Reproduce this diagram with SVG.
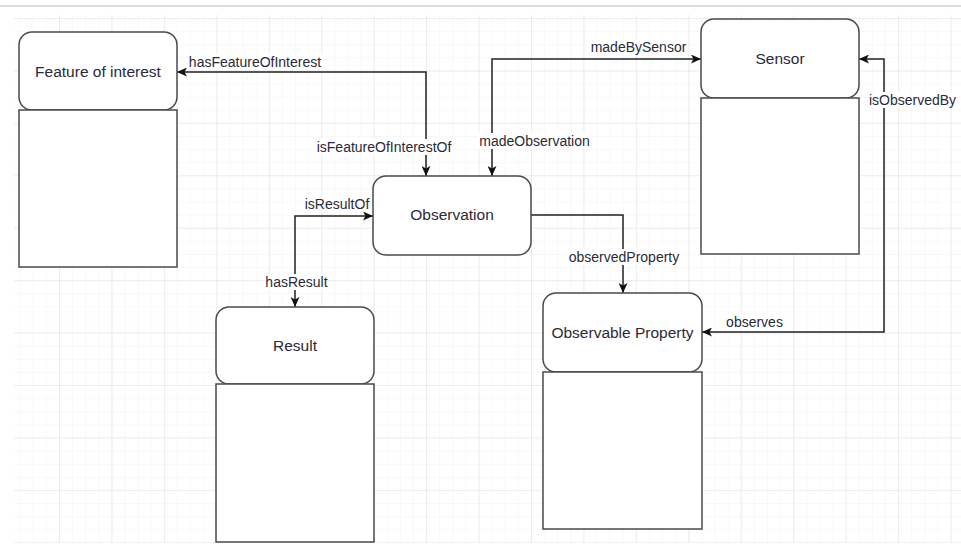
<svg xmlns="http://www.w3.org/2000/svg" width="961" height="544" viewBox="0 0 961 544">
<style>
  .box{fill:#fff;stroke:#4a4a4a;stroke-width:1.5}
  .ntext{font-family:"Liberation Sans",Arial,sans-serif;font-size:15.5px;fill:#2a2a3a;text-anchor:middle}
  .edge{fill:none;stroke:#222;stroke-width:1.5}
  .lbl{font-family:"Liberation Sans",Arial,sans-serif;font-size:14px;fill:#2a2a3a;text-anchor:middle}
  .lblbg{fill:#fff}
</style>
<defs>
  <pattern id="minor" x="6.6" y="18" width="13.11" height="13.11" patternUnits="userSpaceOnUse">
    <path d="M0 0 V13.11 M0 0 H13.11" fill="none" stroke="#f1f1f1" stroke-width="1"/>
  </pattern>
  <pattern id="major" x="6.6" y="18" width="52.44" height="52.43" patternUnits="userSpaceOnUse">
    <path d="M0 0 V52.43 M0 0 H52.44" fill="none" stroke="#e2e2e2" stroke-width="1"/>
  </pattern>
  <marker id="arr" markerUnits="userSpaceOnUse" markerWidth="11" markerHeight="9" refX="10" refY="4.5" orient="auto-start-reverse" viewBox="0 0 11 9">
    <path d="M0 0 L10 4.5 L0 9 L2.5 4.5 Z" fill="#111"/>
  </marker>
</defs>
<rect width="961" height="544" fill="#fff"/>
<rect x="14" y="15" width="947" height="528" fill="url(#minor)"/>
<rect x="14" y="15" width="947" height="528" fill="url(#major)"/>
<line x1="0" y1="6" x2="961" y2="6" stroke="#cfcfcf" stroke-width="1.5"/>

<g id="connectors">
  <path class="edge" d="M177 72 H426 V176" marker-start="url(#arr)" marker-end="url(#arr)"/>
  <path class="edge" d="M492 176 V59 H701" marker-start="url(#arr)" marker-end="url(#arr)"/>
  <path class="edge" d="M295 307 V216 H373" marker-start="url(#arr)" marker-end="url(#arr)"/>
  <path class="edge" d="M531 215 H623 V293" marker-end="url(#arr)"/>
  <path class="edge" d="M859 59 H884 V332 H702" marker-start="url(#arr)" marker-end="url(#arr)"/>
  <g id="labels">
    <rect class="lblbg" x="188" y="54" width="135" height="16"/>
    <text class="lbl" x="255" y="67">hasFeatureOfInterest</text>
    <rect class="lblbg" x="315" y="139" width="138" height="16"/>
    <text class="lbl" x="384" y="152">isFeatureOfInterestOf</text>
    <rect class="lblbg" x="589" y="39" width="99" height="16"/>
    <text class="lbl" x="638.5" y="52">madeBySensor</text>
    <rect class="lblbg" x="478" y="133" width="113" height="16"/>
    <text class="lbl" x="534.5" y="146">madeObservation</text>
    <rect class="lblbg" x="303" y="196" width="68" height="16"/>
    <text class="lbl" x="337" y="209">isResultOf</text>
    <rect class="lblbg" x="265" y="274" width="63" height="16"/>
    <text class="lbl" x="296.5" y="287">hasResult</text>
    <rect class="lblbg" x="567" y="249" width="114" height="16"/>
    <text class="lbl" x="624" y="262">observedProperty</text>
    <rect class="lblbg" x="726" y="314" width="57" height="16"/>
    <text class="lbl" x="754.5" y="327">observes</text>
    <rect class="lblbg" x="868" y="92" width="89" height="16"/>
    <text class="lbl" x="912.5" y="105">isObservedBy</text>
  </g>
</g>

<g id="feature-of-interest">
  <rect class="box" x="19" y="32" width="158" height="78" rx="13" ry="13"/>
  <rect class="box" x="19" y="110" width="158" height="157"/>
  <text class="ntext" x="98" y="76.5">Feature of interest</text>
</g>
<g id="sensor">
  <rect class="box" x="701" y="19" width="158" height="79" rx="13" ry="13"/>
  <rect class="box" x="701" y="98" width="158" height="156"/>
  <text class="ntext" x="780" y="64">Sensor</text>
</g>
<g id="observation">
  <rect class="box" x="373" y="176" width="158" height="79" rx="13" ry="13"/>
  <text class="ntext" x="452" y="220">Observation</text>
</g>
<g id="result">
  <rect class="box" x="216" y="307" width="158" height="77" rx="13" ry="13"/>
  <rect class="box" x="216" y="384" width="158" height="158"/>
  <text class="ntext" x="295" y="351">Result</text>
</g>
<g id="observable-property">
  <rect class="box" x="543" y="293" width="159" height="79" rx="13" ry="13"/>
  <rect class="box" x="543" y="372" width="159" height="157"/>
  <text class="ntext" x="622.5" y="338">Observable Property</text>
</g>
</svg>
